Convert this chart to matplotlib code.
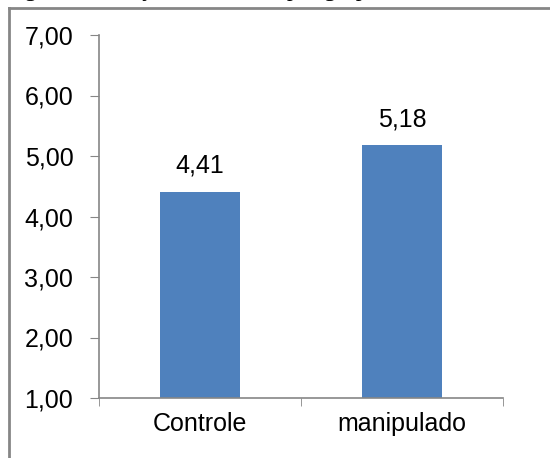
import matplotlib
matplotlib.use("Agg")
import matplotlib.pyplot as plt
from matplotlib.lines import Line2D

categories = ["Controle", "manipulado"]
values = [4.41, 5.18]
value_labels = ["4,41", "5,18"]
yticks = [1, 2, 3, 4, 5, 6, 7]
ytick_labels = ["1,00", "2,00", "3,00", "4,00", "5,00", "6,00", "7,00"]
caption = "Figura 3. Desejo de consumo por grupo"

plt.rcParams['font.family'] = ["Liberation Sans", "DejaVu Sans"]

W, H = 550, 458
fig = plt.figure(figsize=(5.5, 4.58), dpi=100)

x0, x1 = 99, 503
y_top, y_bot = 35, 398
ax = fig.add_axes([x0 / W, 1 - y_bot / H, (x1 - x0) / W, (y_bot - y_top) / H])

xpos = list(range(len(categories)))
ax.bar(xpos, values, width=0.4, bottom=0, color="#4F81BD", zorder=2)
ax.set_ylim(1, 7)
ax.set_xlim(-0.5, len(categories) - 0.5)
ax.set_yticks(yticks)
ax.set_yticklabels(ytick_labels, fontsize=18)
ax.set_xticks(xpos)
ax.set_xticklabels(categories, fontsize=18)
ax.set_xticks([-0.5, 0.5, 1.5], minor=True)
ax.tick_params(axis="x", which="major", length=0, pad=10)
ax.tick_params(axis="x", which="minor", length=6, direction="out", color="#868686")
ax.tick_params(axis="y", length=6.5, direction="out", color="#868686", pad=12)
for s in ["top", "right"]:
    ax.spines[s].set_visible(False)
for s in ["left", "bottom"]:
    ax.spines[s].set_color("#868686")
    ax.spines[s].set_linewidth(1.2)

for x, v, lab in zip(xpos, values, value_labels):
    ax.annotate(lab, (x, v), xytext=(0, 10), textcoords="offset points",
                ha="center", va="bottom", fontsize=18)

fig.add_artist(Line2D([9 / W, 9 / W], [0, 1 - 8 / H], transform=fig.transFigure,
                      color="#868686", lw=2))
fig.add_artist(Line2D([9 / W, 1], [1 - 8 / H, 1 - 8 / H], transform=fig.transFigure,
                      color="#868686", lw=2))

# caption of the page, cropped at the top edge of the picture
fig.text(5 / W, 1 + 4 / H, caption, fontsize=17, family=["Liberation Serif"],
         va="baseline", ha="left")

fig.savefig("out.png", dpi=100)
